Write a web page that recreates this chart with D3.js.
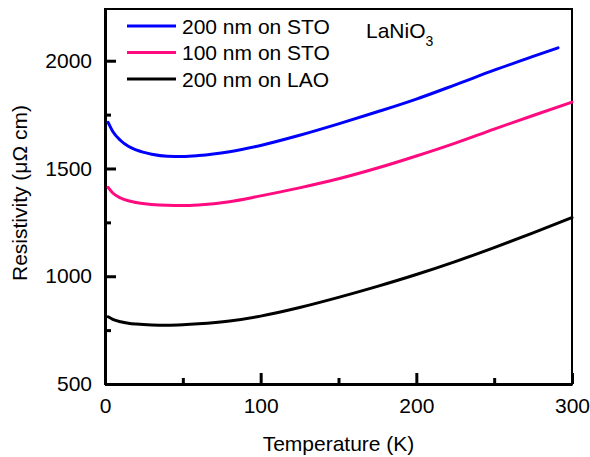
<!DOCTYPE html>
<html>
<head>
<meta charset="utf-8">
<script src="https://cdn.jsdelivr.net/npm/d3@7"></script>
<style>
  body { margin: 0; background: #fff; }
  text { font-family: "Liberation Sans", Arial, sans-serif; fill: #000; }
</style>
</head>
<body>
<div id="chart"></div>
<script>
// LaNiO3 resistivity vs temperature

// Data
// =======================
var tempBlue = [2, 5, 10, 15, 20, 30, 40, 50, 60, 80, 100, 125, 150, 175, 200, 225, 250, 275, 291];
var sto200 = [1714, 1672, 1630, 1603, 1586, 1566, 1557, 1556, 1560, 1578, 1607, 1654, 1707, 1763, 1822, 1888, 1956, 2020, 2060];

var temps = [2, 5, 10, 15, 20, 30, 40, 50, 60, 80, 100, 125, 150, 175, 200, 225, 250, 275, 300];
var sto100 = [1412, 1386, 1363, 1350, 1342, 1333, 1329, 1328, 1331, 1346, 1373, 1410, 1452, 1502, 1558, 1618, 1683, 1746, 1808];
var lao200 = [812, 800, 789, 782, 778, 774, 773, 775, 779, 792, 815, 855, 902, 953, 1008, 1068, 1133, 1201, 1272];

var seriesNames = ["200 nm on STO", "100 nm on STO", "200 nm on LAO"];
var seriesColors = ["#0000ff", "#ff0a7f", "#000000"];

var xTicks = [0, 100, 200, 300];
var xMinor = [50, 150, 250];
var yTicks = [500, 1000, 1500, 2000];
var yMinor = [750, 1250, 1750];

// Sizing
var width = 590, height = 457;
var plotL = 105, plotR = 572, plotT = 9, plotB = 384;
var majorLen = 11, minorLen = 6;

var svg = d3.select("#chart").append("svg")
    .attr("width", width)
    .attr("height", height);

var x = d3.scaleLinear().domain([0, 300]).range([plotL, plotR]);
var y = d3.scaleLinear().domain([500, 2240]).range([plotB, plotT]);

// Frame (top/right)
svg.append("rect")
    .attr("x", plotL).attr("y", plotT)
    .attr("width", plotR - plotL).attr("height", plotB - plotT)
    .attr("fill", "none").attr("stroke", "#000").attr("stroke-width", 2);

// Axes, ticks pointing inward, majors labelled
// ==============================
function labelMajor(list) {
    return function(d) { return list.indexOf(d) >= 0 ? d3.format("d")(d) : ""; };
}

var xAxisG = svg.append("g")
    .attr("transform", "translate(0," + plotB + ")")
    .call(d3.axisBottom(x).tickValues(xTicks.concat(xMinor)).tickSize(-majorLen)
        .tickSizeOuter(0).tickPadding(14).tickFormat(labelMajor(xTicks)));
xAxisG.selectAll(".tick line")
    .attr("y2", function(d) { return xTicks.indexOf(d) >= 0 ? -majorLen : -minorLen; });

var yAxisG = svg.append("g")
    .attr("transform", "translate(" + plotL + ",0)")
    .call(d3.axisLeft(y).tickValues(yTicks.concat(yMinor)).tickSize(-majorLen)
        .tickSizeOuter(0).tickPadding(13).tickFormat(labelMajor(yTicks)));
yAxisG.selectAll(".tick line")
    .attr("x2", function(d) { return yTicks.indexOf(d) >= 0 ? majorLen : minorLen; });

[xAxisG, yAxisG].forEach(function(g) {
    g.select(".domain").attr("stroke", "#000").attr("stroke-width", 3);
    g.selectAll(".tick line").attr("stroke", "#000").attr("stroke-width", 3);
    g.selectAll(".tick text").style("font-size", "21px")
        .style("font-family", "'Liberation Sans', Arial, sans-serif");
});

// Axis titles
svg.append("text")
    .attr("x", (plotL + plotR) / 2)
    .attr("y", 451)
    .attr("text-anchor", "middle")
    .style("font-size", "21px")
    .text("Temperature (K)");

svg.append("text")
    .attr("transform", "translate(27,193)rotate(-90)")
    .attr("text-anchor", "middle")
    .style("font-size", "21px")
    .text("Resistivity (\u03bc\u03a9 cm)");

// Curves
// ==========================
var line = d3.line()
    .x(function(d) { return x(d[0]); })
    .y(function(d) { return y(d[1]); })
    .curve(d3.curveMonotoneX);

var allSeries = [
    d3.zip(tempBlue, sto200),
    d3.zip(temps, sto100),
    d3.zip(temps, lao200)
];

allSeries.forEach(function(pts, i) {
    svg.append("path")
        .datum(pts)
        .attr("d", line)
        .attr("fill", "none")
        .attr("stroke", seriesColors[i])
        .attr("stroke-width", 3)
        .attr("stroke-linecap", "round");
});

// Legend
var legend = svg.append("g");
seriesNames.forEach(function(name, i) {
    var ly = 26 + i * 26.5;
    legend.append("line")
        .attr("x1", 127).attr("x2", 176)
        .attr("y1", ly).attr("y2", ly)
        .attr("stroke", seriesColors[i])
        .attr("stroke-width", 3);
    legend.append("text")
        .attr("x", 182)
        .attr("y", ly + 7.5)
        .style("font-size", "21px")
        .text(name);
});

// Material label
var mat = svg.append("text")
    .attr("x", 366)
    .attr("y", 38)
    .style("font-size", "21px");
mat.append("tspan").text("LaNiO");
mat.append("tspan").attr("dy", 8).style("font-size", "14px").text("3");
</script>
</body>
</html>
